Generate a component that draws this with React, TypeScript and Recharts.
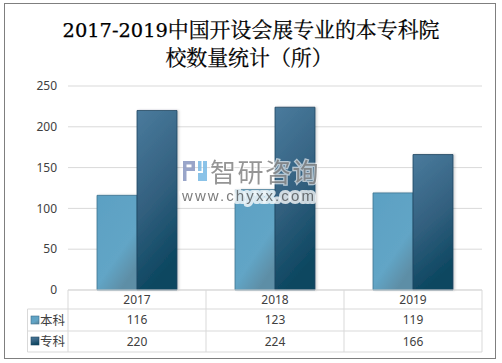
import React from "react";
import { BarChart, Bar, XAxis, YAxis, CartesianGrid } from "recharts";

const years = ["2017", "2018", "2019"];
const benke = [116, 123, 119];
const zhuanke = [220, 224, 166];
const yTicks = [0, 50, 100, 150, 200, 250];
const seriesNames = ["本科", "专科"];
const titleYears = "2017-2019";
const titleRest = "中国开设会展专业的本专科院";
const titleLine2 = "校数量统计（所）";

const rows = years.map((y, i) => ({ year: y, benke: benke[i], zhuanke: zhuanke[i] }));
const W = 502, H = 363;
const LINE = "#d9d9d9";
const TXT = "#404040";
const FONT = "'Noto Sans', 'Noto Sans CJK SC', sans-serif";
const AXIS_Y = 290, R1 = 309, R2 = 331, R3 = 352, LEFT = 27.5, COL0 = 68, CW = 138;
const CJK_SERIF = "'Noto Serif CJK SC', 'Noto Sans CJK SC', serif";

const TableTick = (props: any) => {
  const { x, index, payload } = props;
  const i = index as number;
  const cellText = (yy: number, t: any) => (
    <text x={x} y={yy} textAnchor="middle" fontSize={12} fill={TXT} fontFamily={FONT}>{t}</text>
  );
  const right = COL0 + CW * (i + 1);
  return (
    <g>
      <line x1={right} x2={right} y1={AXIS_Y} y2={R3} stroke={LINE} />
      {i === 0 && (
        <g>
          <line x1={COL0} x2={COL0} y1={AXIS_Y} y2={R3} stroke={LINE} />
          <line x1={LEFT} x2={LEFT} y1={R1} y2={R3} stroke={LINE} />
          <line x1={COL0} x2={COL0 + 3 * CW} y1={AXIS_Y} y2={AXIS_Y} stroke={LINE} />
          {[R1, R2, R3].map((r) => (
            <line key={r} x1={LEFT} x2={COL0 + 3 * CW} y1={r} y2={r} stroke={LINE} />
          ))}
          <rect x={31} y={316} width={8} height={8} fill="url(#gA)" stroke="#3d6f8c" strokeWidth={0.6} />
          <rect x={31} y={337} width={8} height={8} fill="url(#gB)" stroke="#1f4560" strokeWidth={0.6} />
          <text x={40} y={324.5} fontSize={12.5} fill={TXT} fontFamily={FONT}>{seriesNames[0]}</text>
          <text x={40} y={345.5} fontSize={12.5} fill={TXT} fontFamily={FONT}>{seriesNames[1]}</text>
        </g>
      )}
      {cellText(303.5, payload.value)}
      {cellText(323.5, benke[i])}
      {cellText(345.5, zhuanke[i])}
    </g>
  );
};

export default function App() {
  return (
    <div style={{ position: "absolute", left: 0, top: 0, width: W, height: H, background: "#fff" }}>
      <div style={{ position: "absolute", left: 4, top: 3, width: 490, height: 354, border: "1px solid #7f7f7f" }} />
      <BarChart
        width={W}
        height={H}
        data={rows}
        barCategoryGap={29}
        barGap={0}
        margin={{ top: 86, right: 20, bottom: 0, left: 28 }}
        style={{ position: "absolute", left: 0, top: 0 }}
      >
        <defs>
          <linearGradient id="gA" x1="0" y1="0" x2="0.6" y2="1">
            <stop offset="0" stopColor="#5ba0c3" />
            <stop offset="0.7" stopColor="#62a5c6" />
            <stop offset="1" stopColor="#5d8ea6" />
          </linearGradient>
          <linearGradient id="gB" x1="0" y1="0" x2="0.25" y2="1">
            <stop offset="0" stopColor="#4a7b9d" />
            <stop offset="0.55" stopColor="#33607f" />
            <stop offset="1" stopColor="#0d4761" />
          </linearGradient>
          <filter id="sh" x="-10%" y="-5%" width="125%" height="110%">
            <feDropShadow dx="1.5" dy="0" stdDeviation="1.2" floodColor="#000" floodOpacity="0.18" />
          </filter>
        </defs>
        <CartesianGrid vertical={false} stroke={LINE} />
        <XAxis dataKey="year" axisLine={false} tickLine={false} tick={<TableTick />} interval={0} height={73} />
        <YAxis
          domain={[0, 250]}
          ticks={yTicks}
          width={40}
          axisLine={false}
          tickLine={false}
          tick={{ fontSize: 12, fill: TXT, fontFamily: FONT }}
          tickMargin={5}
        />
        <Bar dataKey="benke" name={seriesNames[0]} fill="url(#gA)" stroke="#3f7391" strokeWidth={0.8} filter="url(#sh)" isAnimationActive={false} />
        <Bar dataKey="zhuanke" name={seriesNames[1]} fill="url(#gB)" stroke="#1f4560" strokeWidth={0.8} filter="url(#sh)" isAnimationActive={false} />
      </BarChart>
      <svg width={W} height={H} style={{ position: "absolute", left: 0, top: 0, pointerEvents: "none" }}>
        <text x={251} y={37} textAnchor="middle" fontSize={20.9} fill="#000" stroke="#000" strokeWidth={0.25} fontFamily={CJK_SERIF}>
          <tspan fontFamily="'DejaVu Serif', serif" fontSize={19.4}>{titleYears}</tspan>{titleRest}
        </text>
        <text x={249} y={65} textAnchor="middle" fontSize={20.9} fill="#000" stroke="#000" strokeWidth={0.25} fontFamily={CJK_SERIF}>{titleLine2}</text>
        <g opacity={0.9}>
          <rect x={183} y={161} width={12} height={3.5} fill="#8f9cc4" />
          <rect x={183} y={167.5} width={12} height={3.5} fill="#8f9cc4" />
          <rect x={183} y={161} width={3.5} height={20} fill="#8f9cc4" />
          <rect x={191.5} y={161} width={3.5} height={10} fill="#8f9cc4" />
          <rect x={198} y={161} width={3.5} height={10} fill="#7fbde6" />
          <rect x={198} y={173} width={9} height={8} fill="#7fbde6" />
          <rect x={203} y={161} width={4} height={17} fill="#7fbde6" />
          <text x={210} y={181.5} fontSize={26} letterSpacing={1.5} fill="#8a8a8a" stroke="#ffffff" strokeOpacity={0.7} strokeWidth={2.5} paintOrder="stroke" fontFamily="'Noto Sans CJK SC', sans-serif">智研咨询</text>
          <text x={182} y={200.5} fontSize={15} fill="#6f6f6f" stroke="#ffffff" strokeWidth={6} strokeOpacity={0.85} strokeLinejoin="round" paintOrder="stroke" letterSpacing={2.1} fontFamily="'Liberation Sans', sans-serif">www.chyxx.com</text>
        </g>
      </svg>
    </div>
  );
}
